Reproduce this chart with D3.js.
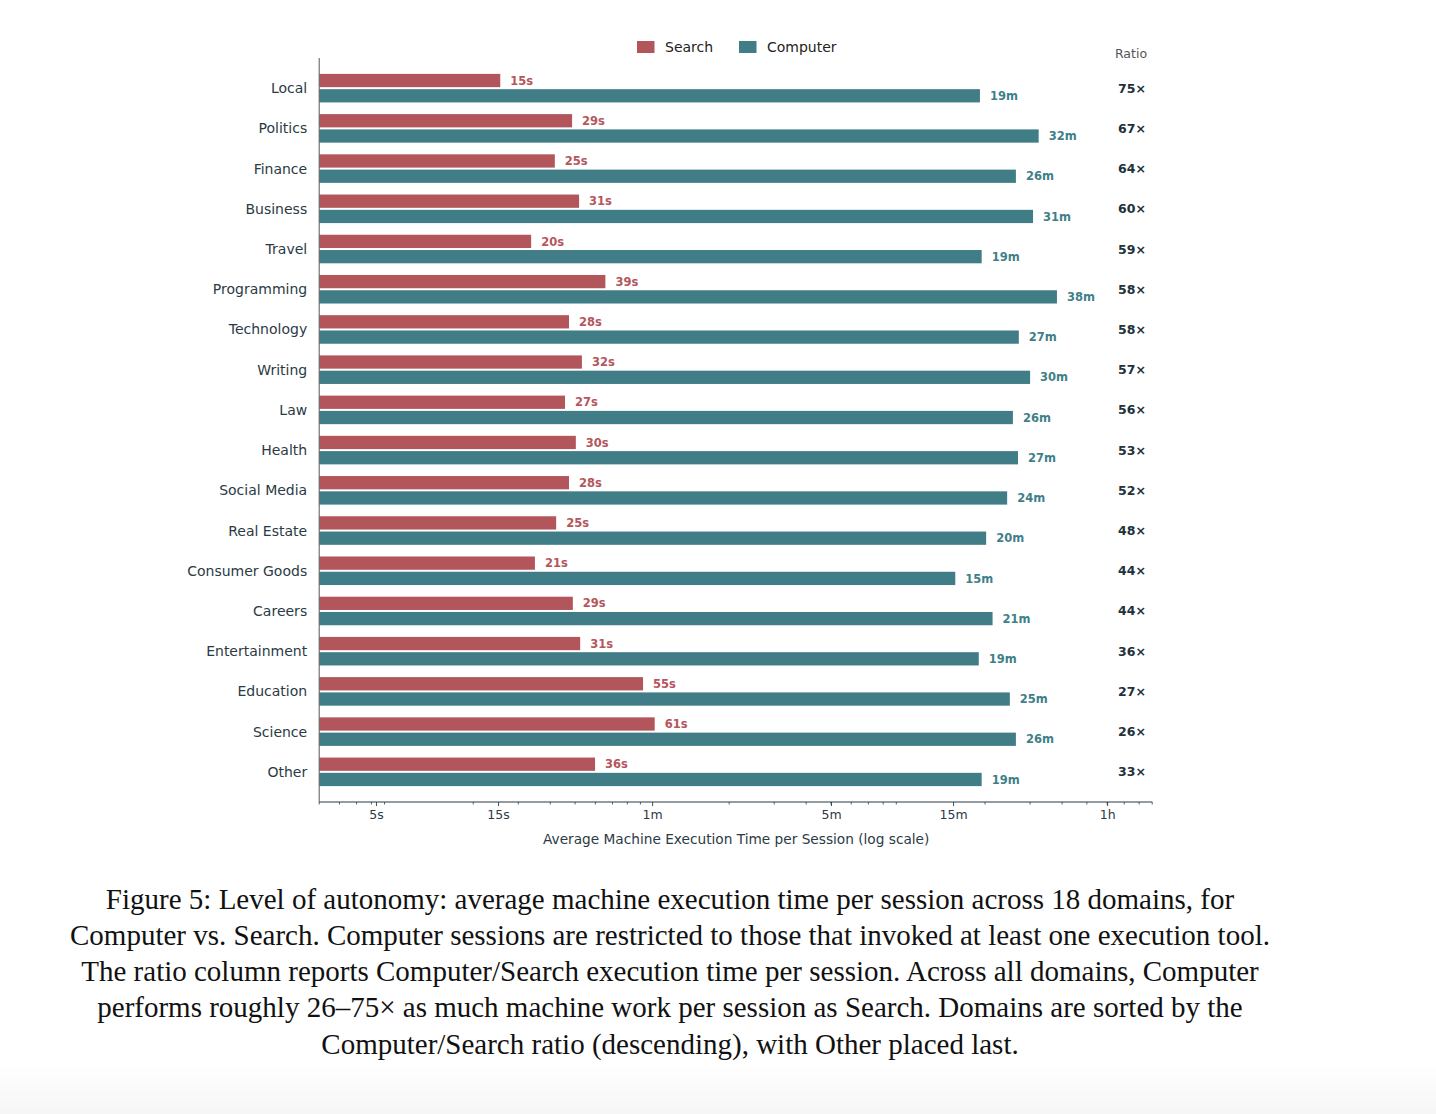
<!DOCTYPE html>
<html>
<head>
<meta charset="utf-8">
<script src="https://cdn.jsdelivr.net/npm/d3@7"></script>
<style>
  html, body { margin: 0; padding: 0; background: #fff; }
  svg { display: block; }
</style>
</head>
<body>
<svg id="fig" width="1436" height="1114"></svg>
<script>
// data (search in seconds, computer in minutes)
var categories = ["Local","Politics","Finance","Business","Travel","Programming","Technology","Writing","Law","Health","Social Media","Real Estate","Consumer Goods","Careers","Entertainment","Education","Science","Other"];
var searchSec = [15.3,29.2,25.0,31.1,20.2,39.4,28.4,31.9,27.4,30.2,28.4,25.3,20.9,29.4,31.4,55.3,61.4,35.9];
var computerMin = [19.1,32.4,26.4,30.8,19.4,38.2,27.1,30.0,25.7,26.9,24.4,20.2,15.3,21.4,18.9,25.0,26.4,19.4];
var ratioLabels = ["75×","67×","64×","60×","59×","58×","58×","57×","56×","53×","52×","48×","44×","44×","36×","27×","26×","33×"];
var tickSec = [5,15,60,300,900,3600];
var tickLabels = ["5s","15s","1m","5m","15m","1h"];
var seriesNames = ["Search","Computer"];
var seriesColors = ["#b2565c","#417d87"];
var labelColors = ["#b5565c","#3f7f8a"];
var captionLines = [
  "Figure 5: Level of autonomy: average machine execution time per session across 18 domains, for",
  "Computer vs. Search. Computer sessions are restricted to those that invoked at least one execution tool.",
  "The ratio column reports Computer/Search execution time per session. Across all domains, Computer",
  "performs roughly 26–75× as much machine work per session as Search. Domains are sorted by the",
  "Computer/Search ratio (descending), with Other placed last."
];

var svg = d3.select("#fig");
var font = "DejaVu Sans, sans-serif";
var textCol = "#2b3a44";

var pL = 319.2, pR = 1152.2, pT = 58, pB = 802;
var x = d3.scaleLog().domain([3, 5400]).range([pL, pR]);
var y = d3.scaleLinear().domain([-0.75, categories.length - 0.25]).range([pT, pB]);
var pitch = y(1) - y(0);
var bh = 0.33 * pitch, off = 0.19 * pitch;

// bottom fade of the page shot
var grad = svg.append("defs").append("linearGradient").attr("id","fade").attr("x1",0).attr("x2",0).attr("y1",0).attr("y2",1);
grad.append("stop").attr("offset","0%").attr("stop-color","#fff");
grad.append("stop").attr("offset","100%").attr("stop-color","#f6f6f6");
svg.append("rect").attr("x",0).attr("y",1064).attr("width",1436).attr("height",50).attr("fill","url(#fade)");

var g = svg.append("g");

// search bars
g.selectAll(".sb").data(searchSec).enter().append("rect")
  .attr("x", pL)
  .attr("y", function(d,i){ return y(i) - off - bh/2; })
  .attr("width", function(d){ return x(d) - pL; })
  .attr("height", bh)
  .attr("fill", seriesColors[0]);
g.selectAll(".sl").data(searchSec).enter().append("text")
  .attr("x", function(d){ return x(d) + 10; })
  .attr("y", function(d,i){ return y(i) - off; })
  .attr("dy","0.36em")
  .attr("font-family", font).attr("font-size", 11.5).attr("font-weight","bold")
  .attr("fill", labelColors[0])
  .text(function(d){ return Math.round(d) + "s"; });

// computer bars
g.selectAll(".cb").data(computerMin).enter().append("rect")
  .attr("x", pL)
  .attr("y", function(d,i){ return y(i) + off - bh/2; })
  .attr("width", function(d){ return x(d*60) - pL; })
  .attr("height", bh)
  .attr("fill", seriesColors[1]);
g.selectAll(".cl").data(computerMin).enter().append("text")
  .attr("x", function(d){ return x(d*60) + 10; })
  .attr("y", function(d,i){ return y(i) + off; })
  .attr("dy","0.36em")
  .attr("font-family", font).attr("font-size", 11.5).attr("font-weight","bold")
  .attr("fill", labelColors[1])
  .text(function(d){ return Math.round(d) + "m"; });

// category labels
g.selectAll(".cat").data(categories).enter().append("text")
  .attr("x", pL - 12)
  .attr("y", function(d,i){ return y(i); })
  .attr("dy","0.36em")
  .attr("text-anchor","end")
  .attr("font-family", font).attr("font-size", 14)
  .attr("fill", textCol)
  .text(function(d){ return d; });

// ratio column
svg.append("text").attr("x",1131).attr("y",53).attr("dy","0.36em")
  .attr("text-anchor","middle").attr("font-family",font).attr("font-size",12.5)
  .attr("fill","#555").text("Ratio");
g.selectAll(".ratio").data(ratioLabels).enter().append("text")
  .attr("x", 1132)
  .attr("y", function(d,i){ return y(i); })
  .attr("dy","0.36em")
  .attr("text-anchor","middle")
  .attr("font-family", font).attr("font-size", 12.5).attr("font-weight","bold")
  .attr("fill", "#22313a")
  .text(function(d){ return d; });

// minor ticks (log subs 2..9 in minutes)
var minor = [];
[0.01,0.1,1,10].forEach(function(dec){
  for (var k=2;k<=9;k++){ var s = dec*k*60; if (s >= 3 - 1e-9 && s <= 5400 + 1e-9) minor.push(s); }
});
g.selectAll(".mt").data(minor).enter().append("line")
  .attr("x1", function(d){ return x(d); }).attr("x2", function(d){ return x(d); })
  .attr("y1", pB).attr("y2", pB + 2.5)
  .attr("stroke","#2b3a44").attr("stroke-width",0.8);

var xAxis = d3.axisBottom(x).tickValues(tickSec)
  .tickFormat(function(d,i){ return tickLabels[i]; })
  .tickSize(4).tickPadding(4);
var ax = svg.append("g").attr("transform","translate(0," + pB + ")").call(xAxis);
ax.select(".domain").remove();
ax.selectAll(".tick line").attr("stroke","#2b3a44").attr("stroke-width",0.9);
ax.selectAll(".tick text").attr("font-family",font).attr("font-size",12.5).attr("fill","#2b3a44");

// spines
svg.append("line").attr("x1",pL).attr("x2",pR).attr("y1",pB).attr("y2",pB)
  .attr("stroke","#2b3a44").attr("stroke-width",1.1);
svg.append("line").attr("x1",pL).attr("x2",pL).attr("y1",pT).attr("y2",pB)
  .attr("stroke","#666").attr("stroke-width",1.1);

svg.append("text").attr("x",(pL+pR)/2 + 0.5).attr("y",839).attr("dy","0.36em")
  .attr("text-anchor","middle").attr("font-family",font).attr("font-size",13.7)
  .attr("fill",textCol).text("Average Machine Execution Time per Session (log scale)");

// legend
var legX = [637, 739];
var leg = svg.selectAll(".leg").data(seriesNames).enter().append("g")
  .attr("transform", function(d,i){ return "translate(" + legX[i] + ",41)"; });
leg.append("rect").attr("width",17.5).attr("height",12).attr("fill",function(d,i){ return seriesColors[i]; });
leg.append("text").attr("x",28).attr("y",6).attr("dy","0.36em")
  .attr("font-family",font).attr("font-size",14).attr("fill","#222")
  .text(function(d){ return d; });

// caption
svg.selectAll(".cap").data(captionLines).enter().append("text")
  .attr("x", 670)
  .attr("y", function(d,i){ return 899 + i*36.1; })
  .attr("dy","0.35em")
  .attr("text-anchor","middle")
  .attr("font-family","Liberation Serif, Times New Roman, serif")
  .attr("font-size", 29)
  .attr("fill","#111")
  .text(function(d){ return d; });
</script>
</body>
</html>
